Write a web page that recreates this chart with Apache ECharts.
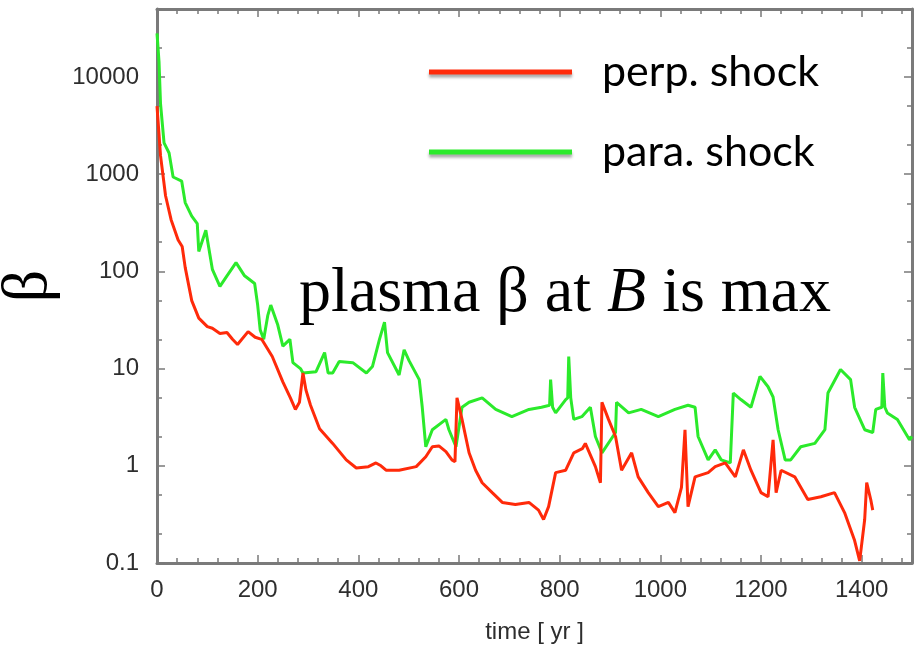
<!DOCTYPE html>
<html><head><meta charset="utf-8">
<script src="https://cdn.jsdelivr.net/npm/echarts@6/dist/echarts.min.js"></script>
<style>html,body{margin:0;padding:0;background:#fff}#c{width:916px;height:648px}</style>
</head><body><div id="c"></div>
<script>
const seriesNames = ['perp. shock', 'para. shock'];
const perpTime = [0,7,17,28,42,50,56,69,83,100,110,125,139,150,160,181,195,208,229,250,265,275,283,290,296,305,323,349,376,396,420,435,445,455,481,515,534,547,560,574,586,592,596,606,620,633,646,666,686,712,739,758,768,778,792,812,828,845,851,871,881,884,897,911,923,943,956,976,996,1016,1029,1042,1049,1055,1069,1095,1109,1129,1149,1165,1180,1200,1214,1224,1230,1240,1267,1293,1319,1346,1366,1386,1396,1406,1410,1418,1422];
const perpBeta = [5000,1550,600,340,210,180,110,50,33,27,26,23,23.5,20,17.7,24,21,20,13.3,7.3,5,3.8,4.5,9,6,4.2,2.4,1.7,1.15,0.95,0.98,1.07,1.0,0.9,0.9,0.98,1.24,1.57,1.6,1.4,1.15,1.1,5,3,1.36,0.9,0.67,0.53,0.42,0.4,0.42,0.35,0.28,0.38,0.85,0.9,1.36,1.5,1.7,0.98,0.67,4.5,3,2,0.9,1.36,0.77,0.53,0.38,0.42,0.33,0.6,2.35,0.38,0.77,0.85,0.98,1.07,0.77,1.46,0.9,0.53,0.48,1.85,0.53,0.9,0.77,0.45,0.48,0.53,0.33,0.17,0.105,0.28,0.67,0.45,0.35];
const paraTime = [0,4,7,14,24,32,49,56,69,80,83,97,110,125,139,157,174,194,200,205,212,220,226,240,250,264,270,285,290,316,333,340,349,362,389,416,428,442,452,458,481,491,501,521,527,534,547,574,580,594,606,620,646,673,705,739,764,780,782,786,792,812,816,818,822,828,844,861,871,884,911,913,937,962,996,1029,1055,1069,1075,1095,1109,1121,1139,1145,1160,1180,1198,1214,1224,1234,1248,1259,1279,1307,1327,1333,1358,1378,1386,1406,1422,1428,1440,1442,1446,1451,1471,1495,1500];
const paraBeta = [28000,14400,5300,2100,1650,935,850,510,370,310,160,265,105,70,90,123,90,75,45,25,20,35,45,28,17,20,11.5,10,9,9.3,14.6,9,9,11.8,11.5,9,10.5,20,30,14.6,8.6,15.6,12,7.7,4,1.57,2.35,3,2.35,1.57,4,4.5,5,3.8,3.2,3.8,4,4.2,7.7,4,3.5,4.8,5,13.3,5,3,3.2,4,2,1.36,2.2,4.5,3.5,3.8,3.2,3.8,4.2,4,2,1.15,1.46,1.15,1.07,5.6,4.8,4,8.3,6.5,5.1,2.35,1.15,1.15,1.57,1.7,2.35,5.6,9.8,7.7,4,2.35,2.2,3.8,4,9,4,3.5,3,1.85,2];
const yLabelValues = [0.1, 1, 10, 100, 1000, 10000];
const yMinorValues = [0.2, 0.5, 2, 5, 20, 50, 200, 500, 2000, 5000, 20000, 50000];
const xMin = 0, xMax = 1500, xStep = 200;
const yMin = 0.1, yMax = 50000;

const frame = '#7a7a7a';
const labelFont = "'Liberation Sans', Arial, sans-serif";
const serif = "'Liberation Serif', 'Times New Roman', serif";

function pairs(t, v) { return t.map((x, i) => [x, v[i]]); }
function fmt(v) { return v < 1 ? v.toFixed(1) : String(Math.round(v)); }

function yAx(pos, major, labels) {
  return {
    type: 'log', logBase: 10, min: yMin, max: yMax, position: pos,
    axisLine: { show: major, lineStyle: { color: frame, width: 3 } },
    axisTick: { show: true, inside: true, length: major ? 8 : 5, customValues: major ? yLabelValues : yMinorValues,
      lineStyle: { color: frame, width: 1.5 } },
    axisLabel: labels ? { show: true, customValues: yLabelValues, formatter: fmt, margin: 18,
      fontFamily: labelFont, fontSize: 24, color: '#2e2e2e' } : { show: false },
    splitLine: { show: false }, minorTick: { show: false }, minorSplitLine: { show: false }
  };
}
function xAx(pos, labels) {
  return {
    type: 'value', min: xMin, max: xMax, interval: xStep, position: pos,
    axisLine: { show: true, onZero: false, lineStyle: { color: frame, width: 3 } },
    axisTick: { show: true, inside: true, length: 8, lineStyle: { color: frame, width: 1.5 } },
    minorTick: { show: true, splitNumber: 5, length: 5, lineStyle: { color: frame, width: 1.5 } },
    axisLabel: labels ? { show: true, margin: 15, formatter: v => String(v), fontFamily: labelFont, fontSize: 24, color: '#2e2e2e' } : { show: false },
    splitLine: { show: false },
    name: labels ? 'time [ yr ]' : '', nameLocation: 'middle', nameGap: 57,
    nameTextStyle: { fontFamily: labelFont, fontSize: 24, color: '#2e2e2e' }
  };
}

const yMain = yAx('left', true, true);
yMain.name = 'β';
yMain.nameLocation = 'middle';
yMain.nameRotate = 90;
yMain.nameGap = 83;
yMain.nameTextStyle = { fontFamily: serif, fontSize: 64, color: '#000' };

const chart = echarts.init(document.getElementById('c'), null, { renderer: 'canvas' });
chart.setOption({
  animation: false,
  backgroundColor: '#fff',
  grid: { left: 157, right: 4, top: 9, bottom: 85, containLabel: false, outerBoundsMode: 'none' },
  legend: {
    orient: 'vertical', left: 424, top: 43, itemGap: 32,
    icon: 'rect', itemWidth: 143, itemHeight: 5,
    itemStyle: { shadowBlur: 3, shadowColor: 'rgba(0,0,0,0.35)', shadowOffsetY: 3 },
    textStyle: { fontFamily: "Lato, 'Open Sans', sans-serif", fontSize: 43, color: '#000', lineHeight: 48, padding: [0, 0, 0, 25] },
    data: seriesNames
  },
  xAxis: [xAx('bottom', true), xAx('top', false)],
  yAxis: [yMain, yAx('left', false, false), yAx('right', true, false), yAx('right', false, false)],
  graphic: [{
    type: 'text', left: 299, top: 262, z: 100,
    style: {
      text: '{a|plasma β at }{b|B}{a| is max}',
      rich: {
        a: { fontFamily: serif, fontSize: 64, fill: '#000' },
        b: { fontFamily: serif, fontSize: 64, fontStyle: 'italic', fill: '#000' }
      }
    }
  }],
  series: [
    { name: seriesNames[0], type: 'line', data: pairs(perpTime, perpBeta), showSymbol: false,
      lineStyle: { color: '#ff2a0a', width: 3 }, itemStyle: { color: '#ff2a0a' }, z: 3 },
    { name: seriesNames[1], type: 'line', data: pairs(paraTime, paraBeta), showSymbol: false,
      lineStyle: { color: '#2bea2b', width: 3 }, itemStyle: { color: '#2bea2b' }, z: 2 }
  ]
});
</script></body></html>
